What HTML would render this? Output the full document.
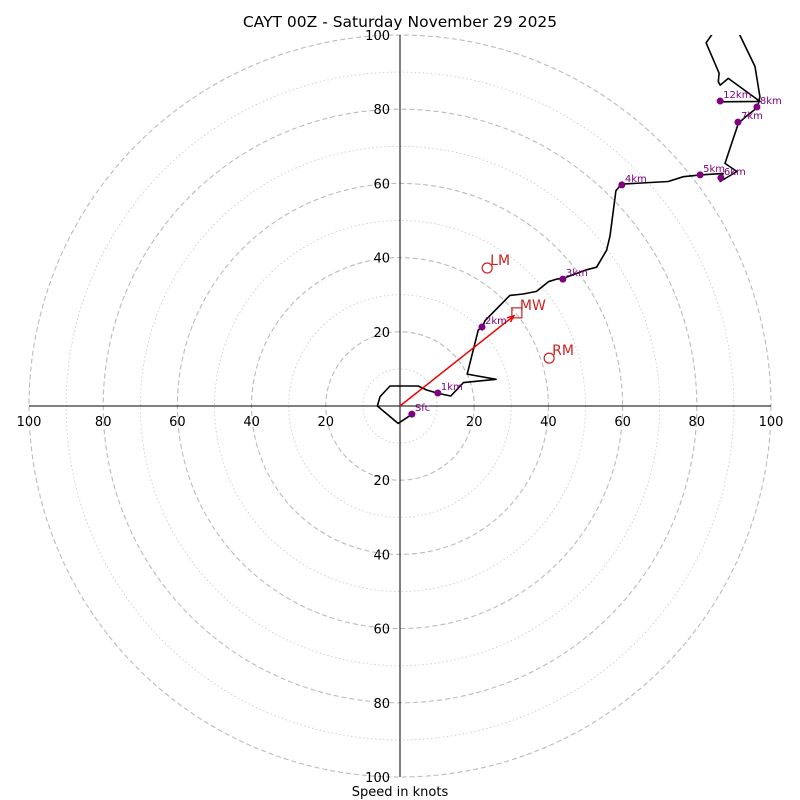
<!DOCTYPE html>
<html><head><meta charset="utf-8"><style>
html,body{margin:0;padding:0;background:#fff;}
svg{display:block;font-family:"DejaVu Sans","Liberation Sans",sans-serif;}
</style></head><body>
<svg id="c" width="800" height="800" viewBox="0 0 800 800">
<defs><clipPath id="clip"><rect x="0" y="35" width="800" height="745"/></clipPath></defs>
<text x="400" y="27" text-anchor="middle" font-size="15.5">CAYT 00Z - Saturday November 29 2025</text>
<text x="400" y="796" text-anchor="middle" font-size="13">Speed in knots</text>
<g id="grid"></g><g id="axes"></g><g id="series" clip-path="url(#clip)"></g><g id="marks"></g>
</svg>
<script>
const ringValues=[10,20,30,40,50,60,70,80,90,100];
const tickLabels=[20,40,60,80,100];
const traceU=[3.3,-0.5,-6.1,-5.4,-2.7,4.9,7.2,10.3,13.7,17.1,25.9,18.1,21.1,22.2,22.9,29.6,33.2,36.8,40.0,42.2,44.0,50.3,53.0,55.7,56.6,58.2,59.1,59.9,72.3,76.4,80.9,87.1,86.3,90.8,87.6,89.4,91.2,93.0,96.4,97.0,95.7,91.6,93.3,81.4,84.0,82.5,86.0,85.8,86.3,88.5,97.0,86.3];
const traceV=[-2.2,-4.7,0,2.5,5.4,5.4,4.3,3.4,2.7,6.3,7.2,8.6,20.5,21.2,23.0,29.8,30.2,30.9,33.5,34.2,34.4,36.7,37.4,42.0,45.8,58.0,59.1,59.8,60.5,61.8,62.3,62.7,60.5,63.2,65.4,70.8,76.2,77.8,80.5,83.4,91.5,100,105.4,105.4,100,97.9,89.7,87.4,86.5,88.3,82.1,82.0];
const heightLabels=["Sfc","1km","2km","3km","4km","5km","6km","7km","8km","12km"];
const heightU=[3.2,10.2,22.1,43.9,59.8,80.9,86.5,91.1,96.2,86.3];
const heightV=[-2.2,3.5,21.3,34.2,59.6,62.3,61.5,76.5,80.6,82.2];
const motionLabels=["LM","MW","RM"];
const motionU=[23.5,31.5,40.2];
const motionV=[37.2,25.1,12.9];

const NS="http://www.w3.org/2000/svg";
const cx=400,cy=406,k=3.71;
const px=u=>cx+u*k, py=v=>cy-v*k;
function mk(tag,attrs,parent,txt){const e=document.createElementNS(NS,tag);for(const a in attrs)e.setAttribute(a,attrs[a]);if(txt!==undefined)e.textContent=txt;document.getElementById(parent).appendChild(e);return e;}

ringValues.forEach(r=>{
  const e=mk('circle',{cx:cx,cy:cy,r:r*k,fill:'none',stroke:r%20===0?'#bbb':'#ccc','stroke-width':r%20===0?1.1:0.9,'stroke-dasharray':r%20===0?'5,3':'1.5,2.5'},'grid');
  
  
});
let a=mk('line',{x1:px(-100),y1:cy,x2:px(100),y2:cy,stroke:'#000','stroke-width':1},'axes');


a=mk('line',{x1:cx,y1:py(100),x2:cx,y2:py(-100),stroke:'#000','stroke-width':1},'axes');


tickLabels.forEach(t=>{
  [-1,1].forEach(s=>{
    let e=mk('text',{x:px(s*t),y:cy+20,'text-anchor':'middle','font-size':13},'axes',t);
    
    
    e=mk('text',{x:cx-10,y:py(s*t)+5,'text-anchor':'end','font-size':13},'axes',t);
    
    
  });
});
let d=traceU.map((u,i)=>(i?'L':'M')+px(u).toFixed(1)+','+py(traceV[i]).toFixed(1)).join('');
let p=mk('path',{d:d,fill:'none',stroke:'#000','stroke-width':1.6,'stroke-linejoin':'round'},'series');


const ex=px(motionU[1])-3, ey=py(motionV[1])+3;
p=mk('line',{x1:cx,y1:cy,x2:ex,y2:ey,stroke:'#e00','stroke-width':1.5},'marks');


const ang=Math.atan2(ey-cy,ex-cx);
const h=(s)=>[ex-7*Math.cos(ang+s),ey-7*Math.sin(ang+s)];
const h1=h(0.4),h2=h(-0.4);
p=mk('path',{d:`M${h1[0]},${h1[1]}L${ex},${ey}L${h2[0]},${h2[1]}`,fill:'none',stroke:'#e00','stroke-width':1.5},'marks');


heightLabels.forEach((l,i)=>{
  let e=mk('circle',{cx:px(heightU[i]),cy:py(heightV[i]),r:3.5,fill:'purple'},'marks');
  
  
  e=mk('text',{x:px(heightU[i])+3,y:py(heightV[i])-3,'font-size':10,fill:'purple'},'marks',l);
  
  
});
motionLabels.forEach((l,i)=>{
  const x=px(motionU[i]),y=py(motionV[i]);
  let e;
  if(l==='MW') e=mk('rect',{x:x-5,y:y-5,width:10,height:10,fill:'none',stroke:'#c22','stroke-width':1.2},'marks');
  else e=mk('circle',{cx:x,cy:y,r:5,fill:'none',stroke:'#c22','stroke-width':1.2},'marks');
  
  
  e=mk('text',{x:x+3,y:y-3,'font-size':14,fill:'#c22'},'marks',l);
  
  
});
</script>
</body></html>
